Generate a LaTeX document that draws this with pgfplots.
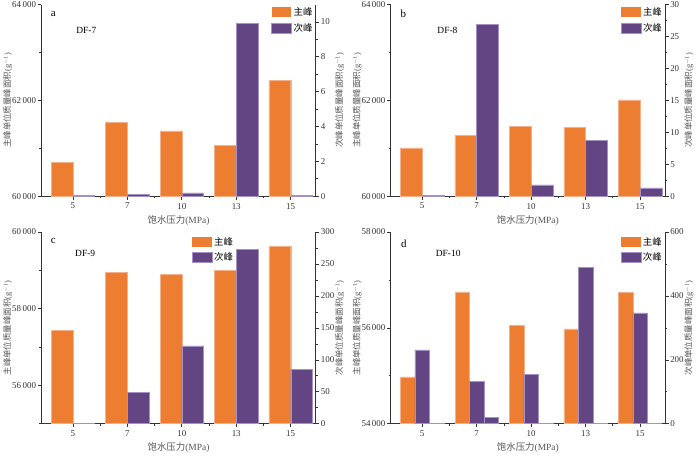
\documentclass[border=0pt]{standalone}
\usepackage{pgfplots}
\pgfplotsset{compat=1.18}
\usepackage{fontspec}
\setmainfont{Liberation Serif}
\newfontfamily\cjk{Noto Sans CJK SC}
\definecolor{zorange}{HTML}{ED7D31}
\definecolor{zpurple}{HTML}{634584}
\definecolor{eorange}{HTML}{F6B08A}
\definecolor{epurple}{HTML}{A592C4}
\definecolor{axgray}{HTML}{333333}
\definecolor{lblgray}{HTML}{555555}
\tikzset{
  ptxt/.style={font=\fontsize{11}{13}\selectfont},
  dtxt/.style={font=\fontsize{9.5}{11}\selectfont},
}
\pgfplotsset{
  base/.style={scale only axis, width=275bp, height=192bp, anchor=south west,
    xmin=-0.58, xmax=4.46, clip=true,
    axis line style={axgray, line width=0.6pt},
    tick style={axgray, line width=0.6pt},
    major tick length=3.5bp, minor tick length=2bp,
    tick align=outside,
    ticklabel style={font=\fontsize{9}{11}\selectfont, text=black!80},
    yticklabel style={inner sep=1.5pt},
    /pgf/number format/1000 sep={\,},
    /pgf/number format/assume math mode=true},
  leftax/.style={base, axis y line*=left, axis x line*=bottom,
    xtick={0,1,2,3,4}, xticklabels={5,7,10,13,15},
    minor xtick={0.5,1.5,2.5,3.5},
    scaled y ticks=false,
    xlabel={\cjk 饱水压力\normalfont(MPa)},
    every axis x label/.style={at={(axis description cs:0.5,-0.125)}, anchor=center,
      font=\fontsize{9.5}{11}\selectfont, text=lblgray},
    ylabel={\cjk 主峰单位质量峰面积\normalfont(g\textsuperscript{$-$1})},
    every axis y label/.style={at={(axis description cs:-0.122,0.5)}, rotate=90, anchor=center,
      font=\fontsize{8.5}{10}\selectfont, text=lblgray}},
  rightax/.style={base, axis y line*=right, axis x line=none,
    ylabel={\cjk 次峰单位质量峰面积\normalfont(g\textsuperscript{$-$1})},
    every axis y label/.style={at={(axis description cs:1.087,0.5)}, rotate=90, anchor=center,
      font=\fontsize{8.5}{10}\selectfont, text=lblgray},
    legend style={draw=none, fill=none, font=\cjk\fontsize{9.5}{11}\selectfont,
      row sep=2bp, inner sep=1bp},
    legend cell align=left,
    legend image code/.code={\fill[##1] (0bp,-5bp) rectangle (20bp,5bp);}},
  obar/.style={ybar, fill=zorange, draw=eorange, line width=0.4pt},
  pbar/.style={ybar, fill=zpurple, draw=epurple, line width=0.4pt},
}
\begin{document}
\begin{tikzpicture}
\path (0,0) rectangle (700bp,451bp);
% ---------- panel a ----------
\begin{axis}[leftax, at={(40bp,255bp)}, ymin=60000, ymax=64000,
  ytick={60000,62000,64000}, minor ytick={61000,63000}]
\addplot[obar, bar width=0.4, bar shift=-0.2] coordinates {(0,60700) (1,61535) (2,61360) (3,61055) (4,62410)};
\node[ptxt] at (axis description cs:0.044,0.953) {a};
\node[dtxt] at (axis description cs:0.164,0.865) {DF-7};
\end{axis}
\begin{axis}[rightax, at={(40bp,255bp)}, ymin=0, ymax=11,
  ytick={0,2,4,6,8,10}, minor ytick={1,3,5,7,9},
  legend style={at={(axis description cs:1,1)}, anchor=north east}]
\addlegendimage{fill=zorange, draw=none}
\addlegendentry{主峰}
\addplot[pbar, bar width=0.4, bar shift=0.2] coordinates {(0,0.03) (1,0.11) (2,0.19) (3,9.9) (4,0.03)};
\addlegendentry{次峰}
\end{axis}
% ---------- panel b ----------
\begin{axis}[leftax, at={(390bp,255bp)}, ymin=60000, ymax=64000,
  ytick={60000,62000,64000}, minor ytick={61000,63000}]
\addplot[obar, bar width=0.4, bar shift=-0.2] coordinates {(0,61007) (1,61270) (2,61451) (3,61430) (4,62007)};
\node[ptxt] at (axis description cs:0.046,0.95) {b};
\node[dtxt] at (axis description cs:0.207,0.865) {DF-8};
\end{axis}
\begin{axis}[rightax, at={(390bp,255bp)}, ymin=0, ymax=30,
  ytick={0,5,10,15,20,25,30}, minor ytick={2.5,7.5,12.5,17.5,22.5,27.5},
  legend style={at={(axis description cs:1,1)}, anchor=north east}]
\addlegendimage{fill=zorange, draw=none}
\addlegendentry{主峰}
\addplot[pbar, bar width=0.4, bar shift=0.2] coordinates {(0,0.08) (1,26.9) (2,1.77) (3,8.7) (4,1.3)};
\addlegendentry{次峰}
\end{axis}
% ---------- panel c ----------
\begin{axis}[leftax, at={(40bp,27bp)}, ymin=55000, ymax=60000,
  ytick={56000,58000,60000}, minor ytick={55000,57000,59000}]
\addplot[obar, bar width=0.4, bar shift=-0.2] coordinates {(0,57429) (1,58952) (2,58900) (3,58996) (4,59628)};
\node[ptxt] at (axis description cs:0.044,0.955) {c};
\node[dtxt] at (axis description cs:0.16,0.89) {DF-9};
\end{axis}
\begin{axis}[rightax, at={(40bp,27bp)}, ymin=0, ymax=300,
  ytick={0,50,100,150,200,250,300}, minor ytick={25,75,125,175,225,275},
  legend style={at={(axis description cs:0.71,0.99)}, anchor=north east}]
\addlegendimage{fill=zorange, draw=none}
\addlegendentry{主峰}
\addplot[pbar, bar width=0.4, bar shift=0.2] coordinates {(0,1) (1,49.3) (2,122) (3,272.4) (4,85.6)};
\addlegendentry{次峰}
\end{axis}
% ---------- panel d ----------
\begin{axis}[leftax, at={(390bp,27bp)}, ymin=54000, ymax=58000,
  ytick={54000,56000,58000}, minor ytick={55000,57000}]
\addplot[obar, bar width=0.265, bar shift=-0.265] coordinates {(0,54979) (1,56750) (2,56049) (3,55979) (4,56736)};
\node[ptxt] at (axis description cs:0.048,0.94) {d};
\node[dtxt] at (axis description cs:0.21,0.89) {DF-10};
\end{axis}
\begin{axis}[rightax, at={(390bp,27bp)}, ymin=0, ymax=600,
  ytick={0,200,400,600}, minor ytick={100,300,500},
  legend style={at={(axis description cs:1,0.99)}, anchor=north east}]
\addlegendimage{fill=zorange, draw=none}
\addlegendentry{主峰}
\addplot[pbar, bar width=0.265, bar shift=0] coordinates {(0,231) (1,132) (2,155) (3,488.5) (4,347)};
\addlegendentry{次峰}
\addplot[pbar, bar width=0.265, bar shift=0.265, forget plot] coordinates {(0,1) (1,19) (2,1) (3,1) (4,1)};
\end{axis}
\end{tikzpicture}
\end{document}
